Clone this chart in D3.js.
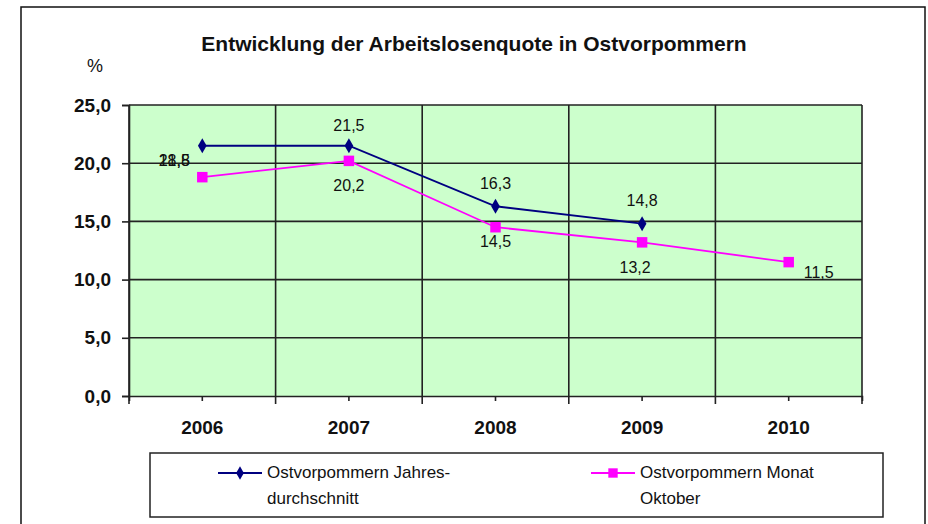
<!DOCTYPE html>
<html>
<head>
<meta charset="utf-8">
<script src="https://cdn.jsdelivr.net/npm/d3@7"></script>
<style>
  body { margin: 0; background: #fff; }
  text { font-family: Arial, "Liberation Sans", sans-serif; }
</style>
</head>
<body>
<svg id="chart" width="928" height="524"></svg>
<script>
// Data
const years = ["2006", "2007", "2008", "2009", "2010"]
const jahresdurchschnitt = [21.5, 21.5, 16.3, 14.8, null]
const monatOktober = [18.8, 20.2, 14.5, 13.2, 11.5]
const yTicks = [0, 5, 10, 15, 20, 25]
const seriesNames = [["Ostvorpommern Jahres-", "durchschnitt"], ["Ostvorpommern Monat", "Oktober"]]

// Layout
const plot = { left: 129, right: 862, top: 105, bottom: 396 }
const gridColor = "#222"
// label offsets (dx, dy baseline) per point, as placed in the original
const labelOffsets = [
    [[-28, 20], [0, -15], [0, -17], [0, -18], null],
    [[-28, -11], [0, 30], [0, 20], [-7, 31], [30, 16]]
]

const de = d3.formatLocale({ decimal: ",", thousands: ".", grouping: [3], currency: ["", " €"] })
const fmt = de.format(".1f")

const svg = d3.select("#chart")

// outer frame
svg.append("rect")
    .attr("x", 21).attr("y", 7)
    .attr("width", 904).attr("height", 530)
    .attr("fill", "#fff")
    .attr("stroke", "#111")
    .attr("stroke-width", 1.5)

const x = d3.scaleBand().domain(years).range([plot.left, plot.right]).paddingInner(0).paddingOuter(0)
const y = d3.scaleLinear().domain([0, 25]).range([plot.bottom, plot.top])
const cx = d => x(d) + x.bandwidth() / 2

// plot background
svg.append("rect")
    .attr("x", plot.left).attr("y", plot.top)
    .attr("width", plot.right - plot.left).attr("height", plot.bottom - plot.top)
    .attr("fill", "#ccffcc")

// horizontal gridlines
svg.append("g").selectAll("line")
    .data(yTicks.slice(1))
    .join("line")
    .attr("x1", plot.left).attr("x2", plot.right)
    .attr("y1", d => y(d)).attr("y2", d => y(d))
    .attr("stroke", gridColor)
    .attr("stroke-width", 1.6)

// vertical gridlines at category boundaries
const bounds = years.map(d => x(d)).concat([plot.right])
svg.append("g").selectAll("line")
    .data(bounds)
    .join("line")
    .attr("x1", d => d).attr("x2", d => d)
    .attr("y1", plot.top).attr("y2", plot.bottom + 8)
    .attr("stroke", gridColor)
    .attr("stroke-width", 1.6)

// y axis
const yAxis = svg.append("g")
    .attr("transform", `translate(${plot.left},0)`)
    .call(d3.axisLeft(y).tickValues(yTicks).tickSize(7).tickPadding(11).tickFormat(fmt))
yAxis.select(".domain").attr("stroke", gridColor).attr("stroke-width", 1.6)
yAxis.selectAll(".tick line").attr("stroke", gridColor).attr("stroke-width", 1.6)
yAxis.selectAll(".tick text")
    .attr("fill", "#111")
    .attr("font-size", 19)
    .attr("font-weight", "bold")
    .attr("font-family", "Arial, 'Liberation Sans', sans-serif")

// x axis
const xAxis = svg.append("g")
    .attr("transform", `translate(0,${plot.bottom})`)
    .call(d3.axisBottom(x).tickSize(5).tickPadding(20))
xAxis.select(".domain").attr("stroke", gridColor).attr("stroke-width", 1.6)
xAxis.selectAll(".tick line").attr("stroke", gridColor).attr("stroke-width", 1.6)
xAxis.selectAll(".tick text")
    .attr("fill", "#111")
    .attr("font-size", 19)
    .attr("font-weight", "bold")
    .attr("font-family", "Arial, 'Liberation Sans', sans-serif")

// title and unit
svg.append("text")
    .attr("x", 474).attr("y", 51)
    .attr("text-anchor", "middle")
    .attr("font-size", 21)
    .attr("font-weight", "bold")
    .attr("fill", "#111")
    .text("Entwicklung der Arbeitslosenquote in Ostvorpommern")

svg.append("text")
    .attr("x", 95).attr("y", 72)
    .attr("text-anchor", "middle")
    .attr("font-size", 18)
    .attr("fill", "#111")
    .text("%")

// series
const series = [
    { values: jahresdurchschnitt, color: "#000080", marker: d3.symbolDiamond, size: 65 },
    { values: monatOktober, color: "#ff00ff", marker: d3.symbolSquare, size: 110 }
]

const line = d3.line()
    .defined(d => d.v != null)
    .x(d => cx(d.year))
    .y(d => y(d.v))

series.forEach((s, si) => {
    const pts = years.map((yr, i) => ({ year: yr, v: s.values[i], i }))
    svg.append("path")
        .datum(pts)
        .attr("d", line)
        .attr("fill", "none")
        .attr("stroke", s.color)
        .attr("stroke-width", 1.8)

    const valid = pts.filter(d => d.v != null)
    svg.append("g").selectAll("path")
        .data(valid)
        .join("path")
        .attr("transform", d => `translate(${cx(d.year)},${y(d.v)})`)
        .attr("d", d3.symbol(s.marker, s.size))
        .attr("fill", s.color)

    svg.append("g").selectAll("text")
        .data(valid)
        .join("text")
        .attr("x", d => cx(d.year) + labelOffsets[si][d.i][0])
        .attr("y", d => y(d.v) + labelOffsets[si][d.i][1])
        .attr("text-anchor", "middle")
        .attr("font-size", 16)
        .attr("fill", "#111")
        .text(d => fmt(d.v))
})

// legend
const legend = svg.append("g")
legend.append("rect")
    .attr("x", 150).attr("y", 453)
    .attr("width", 733).attr("height", 64)
    .attr("fill", "#fff")
    .attr("stroke", "#222")
    .attr("stroke-width", 1.5)

const legendX = [218, 591]
series.forEach((s, si) => {
    const lx = legendX[si]
    legend.append("line")
        .attr("x1", lx).attr("x2", lx + 44)
        .attr("y1", 473).attr("y2", 473)
        .attr("stroke", s.color)
        .attr("stroke-width", 1.8)
    legend.append("path")
        .attr("transform", `translate(${lx + 22},473)`)
        .attr("d", d3.symbol(s.marker, s.size * 0.8))
        .attr("fill", s.color)
    seriesNames[si].forEach((t, li) => {
        legend.append("text")
            .attr("x", lx + 49)
            .attr("y", 478 + li * 26)
            .attr("font-size", 17)
            .attr("fill", "#111")
            .text(t)
    })
})
</script>
</body>
</html>
